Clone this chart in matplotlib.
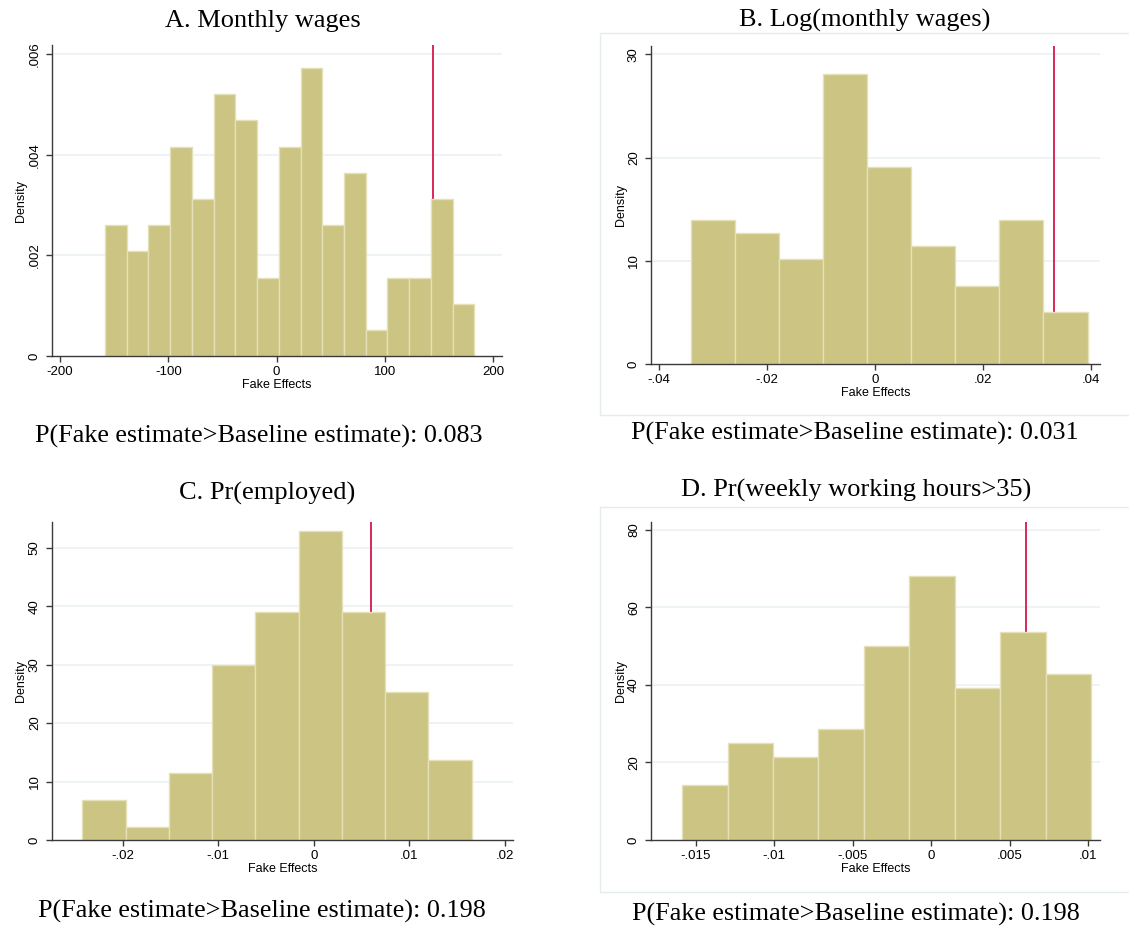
import matplotlib
matplotlib.use("Agg")
import matplotlib.pyplot as plt
from matplotlib.patches import Rectangle
import numpy as np

# ---------------- data ----------------
titles = ["A. Monthly wages", "B. Log(monthly wages)",
          "C. Pr(employed)", "D. Pr(weekly working hours>35)"]
pvalues = ["0.083", "0.031", "0.198", "0.198"]

# Panel A
a_start, a_width = -158.4, 20.07
a_density = [0.002596, 0.002086, 0.002596, 0.004159, 0.003126, 0.005205,
             0.004689, 0.001556, 0.004159, 0.005728, 0.002596, 0.003642,
             0.00051, 0.001556, 0.001556, 0.003126, 0.00104]
a_baseline = 144.2
a_xticks = [-200, -100, 0, 100, 200]
a_xlabels = ["-200", "-100", "0", "100", "200"]
a_yticks = [0, 0.002, 0.004, 0.006]
a_ylabels = ["0", ".002", ".004", ".006"]

# Panel B
b_start, b_width = -0.03414, 0.00817
b_density = [13.97, 12.71, 10.15, 28.06, 19.11, 11.41, 7.60, 13.97, 5.04]
b_baseline = 0.03309
b_xticks = [-0.04, -0.02, 0, 0.02, 0.04]
b_xlabels = ["-.04", "-.02", "0", ".02", ".04"]
b_yticks = [0, 10, 20, 30]
b_ylabels = ["0", "10", "20", "30"]

# Panel C
c_start, c_width = -0.02422, 0.004526
c_density = [6.84, 2.22, 11.46, 29.93, 39.05, 52.9, 39.05, 25.26, 13.74]
c_baseline = 0.00599
c_xticks = [-0.02, -0.01, 0, 0.01, 0.02]
c_xlabels = ["-.02", "-.01", "0", ".01", ".02"]
c_yticks = [0, 10, 20, 30, 40, 50]
c_ylabels = ["0", "10", "20", "30", "40", "50"]

# Panel D
d_start, d_width = -0.01587, 0.002895
d_density = [14.19, 24.95, 21.42, 28.56, 50.15, 68.13, 39.31, 53.68, 42.92]
d_baseline = 0.006006
d_xticks = [-0.015, -0.01, -0.005, 0, 0.005, 0.01]
d_xlabels = ["-.015", "-.01", "-.005", "0", ".005", ".01"]
d_yticks = [0, 20, 40, 60, 80]
d_ylabels = ["0", "20", "40", "60", "80"]

# ---------------- styling / layout ----------------
W, H = 1129, 927
fig = plt.figure(figsize=(W / 100, H / 100), dpi=100)

BAR = "#cbc482"
BAR_EDGE = "#e4e0b8"
RED = "#d8285a"
GRID = "#e9f1f2"
AXC = "#3a3a3a"
SERIF = ["Liberation Serif", "DejaVu Serif"]
SANS = ["Liberation Sans", "DejaVu Sans"]


def px_axes(left, right, top, bottom):
    return fig.add_axes([left / W, 1 - bottom / H, (right - left) / W, (bottom - top) / H])


panels = [
    dict(box=(52, 502, 45, 356), start=a_start, width=a_width, dens=a_density,
         base=a_baseline, xt=a_xticks, xl=a_xlabels, yt=a_yticks, yl=a_ylabels,
         xlim=(-207.4, 208.3), ylim=(0, 0.00618)),
    dict(box=(651, 1100, 46, 364), start=b_start, width=b_width, dens=b_density,
         base=b_baseline, xt=b_xticks, xl=b_xlabels, yt=b_yticks, yl=b_ylabels,
         xlim=(-0.0415, 0.0417), ylim=(0, 30.8)),
    dict(box=(52, 513, 522, 840), start=c_start, width=c_width, dens=c_density,
         base=c_baseline, xt=c_xticks, xl=c_xlabels, yt=c_yticks, yl=c_ylabels,
         xlim=(-0.02739, 0.02083), ylim=(0, 54.4)),
    dict(box=(651, 1100, 522, 840), start=d_start, width=d_width, dens=d_density,
         base=d_baseline, xt=d_xticks, xl=d_xlabels, yt=d_yticks, yl=d_ylabels,
         xlim=(-0.01785, 0.01074), ylim=(0, 82.06)),
]

# light frames around graph regions B and D
for (x0, y0, x1, y1) in [(600, 33, 1135, 415), (600, 507, 1135, 892)]:
    fig.patches.append(Rectangle((x0 / W, 1 - y1 / H), (x1 - x0) / W, (y1 - y0) / H,
                                 transform=fig.transFigure, fill=False,
                                 edgecolor="#e4ecee", lw=1.0))

for p in panels:
    ax = px_axes(*p["box"])
    n = len(p["dens"])
    lefts = p["start"] + np.arange(n) * p["width"]
    ax.bar(lefts, p["dens"], width=p["width"], align="edge", color=BAR,
           edgecolor=BAR_EDGE, linewidth=1.0, zorder=2)
    ax.axvline(p["base"], color=RED, lw=1.4, zorder=1)
    ax.set_xlim(*p["xlim"])
    ax.set_ylim(*p["ylim"])
    ax.set_xticks(p["xt"])
    ax.set_xticklabels(p["xl"], fontfamily=SANS, fontsize=9.5)
    ax.set_yticks(p["yt"])
    ax.set_yticklabels(p["yl"], fontfamily=SANS, fontsize=9.5, rotation=90, va="center")
    for yv in p["yt"][1:]:
        ax.axhline(yv, color=GRID, lw=1.1, zorder=0)
    for s in ["top", "right"]:
        ax.spines[s].set_visible(False)
    for s in ["left", "bottom"]:
        ax.spines[s].set_color(AXC)
        ax.spines[s].set_linewidth(1.0)
    ax.tick_params(direction="out", length=4, width=1.0, color=AXC, pad=3)
    ax.tick_params(axis="y", pad=4)
    ax.set_xlabel("Fake Effects", fontfamily=SANS, fontsize=9, labelpad=1)
    ax.set_ylabel("Density", fontfamily=SANS, fontsize=9, labelpad=1)
    ax.patch.set_alpha(0)

# titles
title_pos = [(263, 27), (865, 27), (267, 500), (856, 497)]
for t, (x, y) in zip(titles, title_pos):
    fig.text(x / W, 1 - y / H, t, ha="center", va="baseline",
             fontfamily=SERIF, fontsize=19)

# p-value notes
note_pos = [(259, 443), (855, 440), (262, 918), (856, 921)]
for pv, (x, y) in zip(pvalues, note_pos):
    fig.text(x / W, 1 - y / H, "P(Fake estimate>Baseline estimate): " + pv,
             ha="center", va="baseline", fontfamily=SERIF, fontsize=18.8)

fig.savefig("out.png", dpi=100)
